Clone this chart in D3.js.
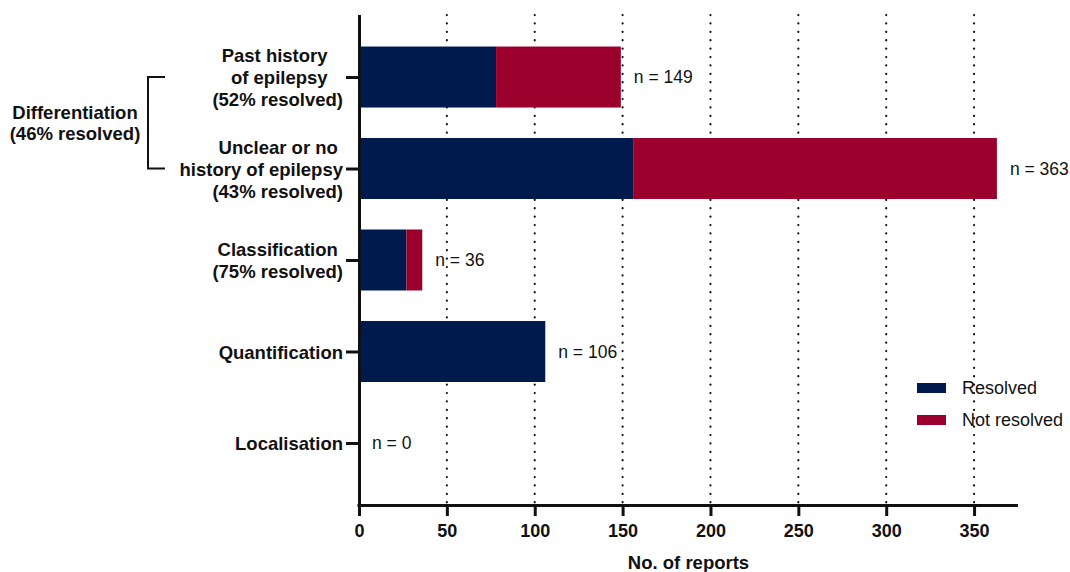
<!DOCTYPE html>
<html>
<head>
<meta charset="utf-8">
<script src="https://cdn.jsdelivr.net/npm/d3@7"></script>
<style>
  html, body { margin: 0; padding: 0; background: #fff; }
  svg { display: block; }
  text { font-family: "Liberation Sans", Arial, sans-serif; fill: #111; }
  .ylab text { white-space: pre; }
</style>
</head>
<body>
<svg id="chart" width="1070" height="572"></svg>
<script>
// ---- data ----
const categories = [
  "Past history   \nof epilepsy   \n(52% resolved)",
  "Unclear or no \nhistory of epilepsy\n(43% resolved)",
  "Classification \n(75% resolved)",
  "Quantification",
  "Localisation"
];
const resolved    = [78, 156, 27, 106, 0];
const notResolved = [71, 207, 9, 0, 0];
const totals      = [149, 363, 36, 106, 0];
const xTicks      = [0, 50, 100, 150, 200, 250, 300, 350];
const seriesNames = ["Resolved", "Not resolved"];
const seriesColors = ["#001a4e", "#9b002c"];
const groupLabel  = ["Differentiation", "(46% resolved)"];
const groupMembers = [0, 1];
const xTitle = "No. of reports";

// ---- layout ----
const svg = d3.select("#chart");
const plotLeft = 359, plotRight = 1018, plotTop = 15, plotBottom = 505;

const x = d3.scaleLinear().domain([0, 375]).range([plotLeft, plotRight]);
const y = d3.scalePoint().domain(d3.range(categories.length))
  .range([plotTop, plotBottom]).padding(0.678);
const barH = 61;

// gridlines (dotted), behind bars
svg.append("g").selectAll("line")
  .data(xTicks.filter(d => d > 0))
  .join("line")
  .attr("x1", d => x(d)).attr("x2", d => x(d))
  .attr("y1", plotTop).attr("y2", plotBottom)
  .attr("stroke", "#111").attr("stroke-width", 2.2)
  .attr("stroke-linecap", "round")
  .attr("stroke-dasharray", "0.1 8.3");

// stacked bars
const rows = categories.map((c, i) => ({i, r: resolved[i], n: notResolved[i], t: totals[i]}));
const bars = svg.append("g");
bars.selectAll("rect.res")
  .data(rows.filter(d => d.r > 0))
  .join("rect").attr("class", "res")
  .attr("x", x(0))
  .attr("y", d => y(d.i) - barH / 2)
  .attr("width", d => x(d.r) - x(0))
  .attr("height", barH)
  .attr("fill", seriesColors[0]);
bars.selectAll("rect.nres")
  .data(rows.filter(d => d.n > 0))
  .join("rect").attr("class", "nres")
  .attr("x", d => x(d.r))
  .attr("y", d => y(d.i) - barH / 2)
  .attr("width", d => x(d.r + d.n) - x(d.r))
  .attr("height", barH)
  .attr("fill", seriesColors[1]);

// n labels
svg.append("g").selectAll("text")
  .data(rows)
  .join("text")
  .attr("x", d => x(d.t) + 13)
  .attr("y", d => y(d.i))
  .attr("dy", "0.36em")
  .attr("font-size", 17.5)
  .text(d => "n = " + d.t);

// x axis
const xAxis = svg.append("g")
  .attr("transform", `translate(0,${plotBottom})`)
  .call(d3.axisBottom(x).tickValues(xTicks).tickSize(11).tickSizeOuter(0).tickPadding(8));
xAxis.select(".domain").attr("stroke", "#111").attr("stroke-width", 3)
  .attr("d", `M${plotLeft - 1.5},0.5H${plotRight}`);
xAxis.selectAll(".tick line").attr("stroke", "#111").attr("stroke-width", 3);
xAxis.selectAll(".tick text")
  .attr("font-size", 18).attr("font-weight", "bold")
  .style("font-family", '"Liberation Sans", Arial, sans-serif').attr("fill", "#111");

// y axis
const yAxis = svg.append("g").attr("class", "ylab")
  .attr("transform", `translate(${plotLeft},0)`)
  .call(d3.axisLeft(y).tickSize(13).tickSizeOuter(0).tickPadding(3).tickFormat(() => ""));
yAxis.select(".domain").attr("stroke", "#111").attr("stroke-width", 3)
  .attr("d", `M0.5,${plotTop}V${plotBottom + 1.5}`);
yAxis.selectAll(".tick line").attr("stroke", "#111").attr("stroke-width", 3);
const lh = 22;
yAxis.selectAll(".tick text").each(function(d) {
  const lines = categories[d].split("\n");
  const t = d3.select(this)
    .attr("font-size", 18.5).attr("font-weight", "bold")
    .style("font-family", '"Liberation Sans", Arial, sans-serif')
    .attr("fill", "#111").attr("dy", null).attr("y", 0)
    .attr("xml:space", "preserve");
  t.text(null);
  lines.forEach((ln, k) => {
    t.append("tspan")
      .attr("x", -16)
      .attr("y", (k - (lines.length - 1) / 2) * lh)
      .attr("dy", "0.36em")
      .text(ln);
  });
});

// group bracket
const gy0 = y(groupMembers[0]), gy1 = y(groupMembers[groupMembers.length - 1]);
const bx = 148, bx2 = 165;
svg.append("path")
  .attr("d", `M${bx2},${gy0}H${bx}V${gy1}H${bx2}`)
  .attr("fill", "none").attr("stroke", "#111").attr("stroke-width", 2);
const gl = svg.append("text")
  .attr("text-anchor", "middle")
  .attr("font-size", 18.5).attr("font-weight", "bold");
groupLabel.forEach((ln, k) => {
  gl.append("tspan").attr("x", 75)
    .attr("y", (gy0 + gy1) / 2 + (k - (groupLabel.length - 1) / 2) * 21)
    .attr("dy", "0.36em").text(ln);
});

// x title
svg.append("text")
  .attr("x", (plotLeft + plotRight) / 2)
  .attr("y", 569)
  .attr("text-anchor", "middle")
  .attr("font-size", 18.5).attr("font-weight", "bold")
  .text(xTitle);

// legend
const lg = svg.append("g").attr("transform", "translate(917,383)");
seriesNames.forEach((s, k) => {
  lg.append("rect").attr("x", 0).attr("y", k * 32).attr("width", 29).attr("height", 10)
    .attr("fill", seriesColors[k]);
  lg.append("text").attr("x", 45).attr("y", k * 32 + 5).attr("dy", "0.36em")
    .attr("font-size", 18).text(s);
});
</script>
</body>
</html>
